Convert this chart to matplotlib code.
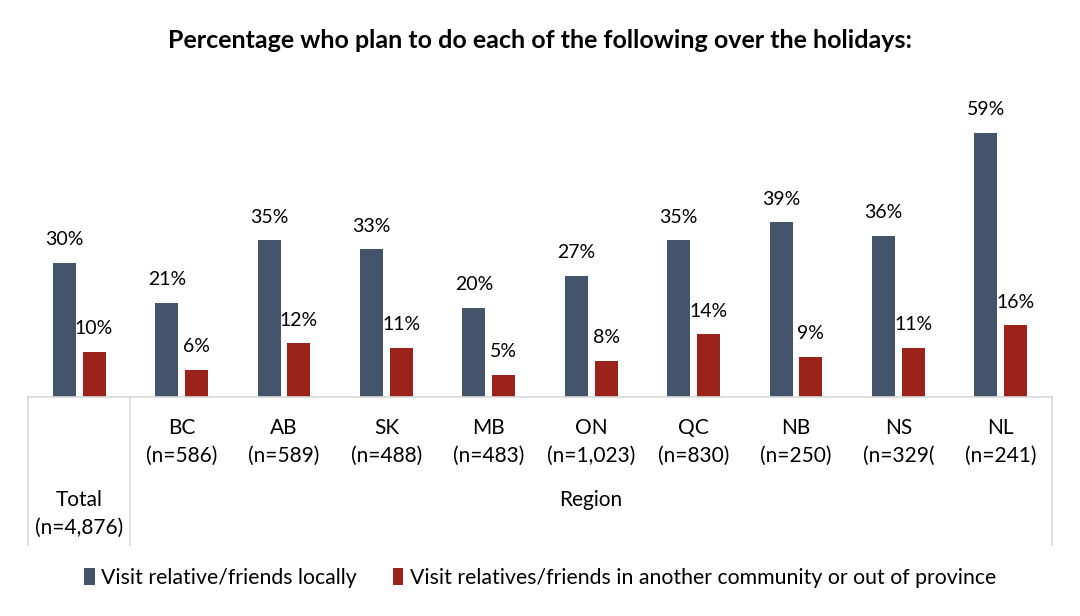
import matplotlib.pyplot as plt
from matplotlib.patches import Patch
from matplotlib.lines import Line2D

plt.rcParams['font.family'] = ['Lato', 'DejaVu Sans']

# Dados
categorias = ['Total', 'BC', 'AB', 'SK', 'MB', 'ON', 'QC', 'NB', 'NS', 'NL']
amostras = ['(n=4,876)', '(n=586)', '(n=589)', '(n=488)', '(n=483)', '(n=1,023)',
            '(n=830)', '(n=250)', '(n=329(', '(n=241)']
local = [30, 21, 35, 33, 20, 27, 35, 39, 36, 59]
fora = [10, 6, 12, 11, 5, 8, 14, 9, 11, 16]
series = ['Visit relative/friends locally',
          'Visit relatives/friends in another community or out of province']

cor_azul = '#44546A'
cor_verm = '#9B231C'
cinza = '#D9D9D9'

W, H = 1080, 616
fig = plt.figure(figsize=(W / 100, H / 100), dpi=100)

# eixo: x de 28 a 1052 px, base em y=397 px, topo em y=80 px
ax = fig.add_axes([28 / W, (H - 397) / H, 1024 / W, 317 / H])
ax.set_xlim(-0.5, len(categorias) - 0.5)
ax.set_ylim(0, 317 / 4.475)
ax.axis('off')

x = list(range(len(categorias)))
larg = 0.225
desl = 0.145
b1 = ax.bar([i - desl for i in x], local, larg, color=cor_azul)
b2 = ax.bar([i + desl for i in x], fora, larg, color=cor_verm)

for i in x:
    ax.text(i - desl, local[i] + 3.3, f'{local[i]}%', ha='center', va='bottom', fontsize=14)
    ax.text(i + desl, fora[i] + 3.3, f'{fora[i]}%', ha='center', va='bottom', fontsize=14)

# grade da tabela abaixo do eixo (coordenadas de figura em px)
def fx(px):
    return px / W

def fy(py):
    return (H - py) / H

fig.add_artist(Line2D([fx(28), fx(1052)], [fy(397), fy(397)], color=cinza, lw=1.2))
for xp in [28, 130, 1052]:
    fig.add_artist(Line2D([fx(xp), fx(xp)], [fy(397), fy(545)], color=cinza, lw=1.2))

# rótulos das categorias
for i in x:
    xc = ax.transData.transform((i, 0))[0] / W
    if i == 0:
        fig.text(xc, fy(500), categorias[i], ha='center', va='center', fontsize=15)
        fig.text(xc, fy(528), amostras[i], ha='center', va='center', fontsize=15)
    else:
        fig.text(xc, fy(428), categorias[i], ha='center', va='center', fontsize=15)
        fig.text(xc, fy(456), amostras[i], ha='center', va='center', fontsize=15)
fig.text(fx(591), fy(500), 'Region', ha='center', va='center', fontsize=15)

fig.text(0.5, fy(40), 'Percentage who plan to do each of the following over the holidays:',
         ha='center', va='center', fontsize=18, fontweight='bold')

alcas = [Patch(facecolor=cor_azul), Patch(facecolor=cor_verm)]
fig.legend(alcas, series, loc='center', bbox_to_anchor=(0.5, fy(578)), ncol=2,
           frameon=False, fontsize=15.3, handlelength=0.5, handleheight=0.8,
           handletextpad=0.3, columnspacing=1.7)

fig.savefig('out.png', dpi=100)
